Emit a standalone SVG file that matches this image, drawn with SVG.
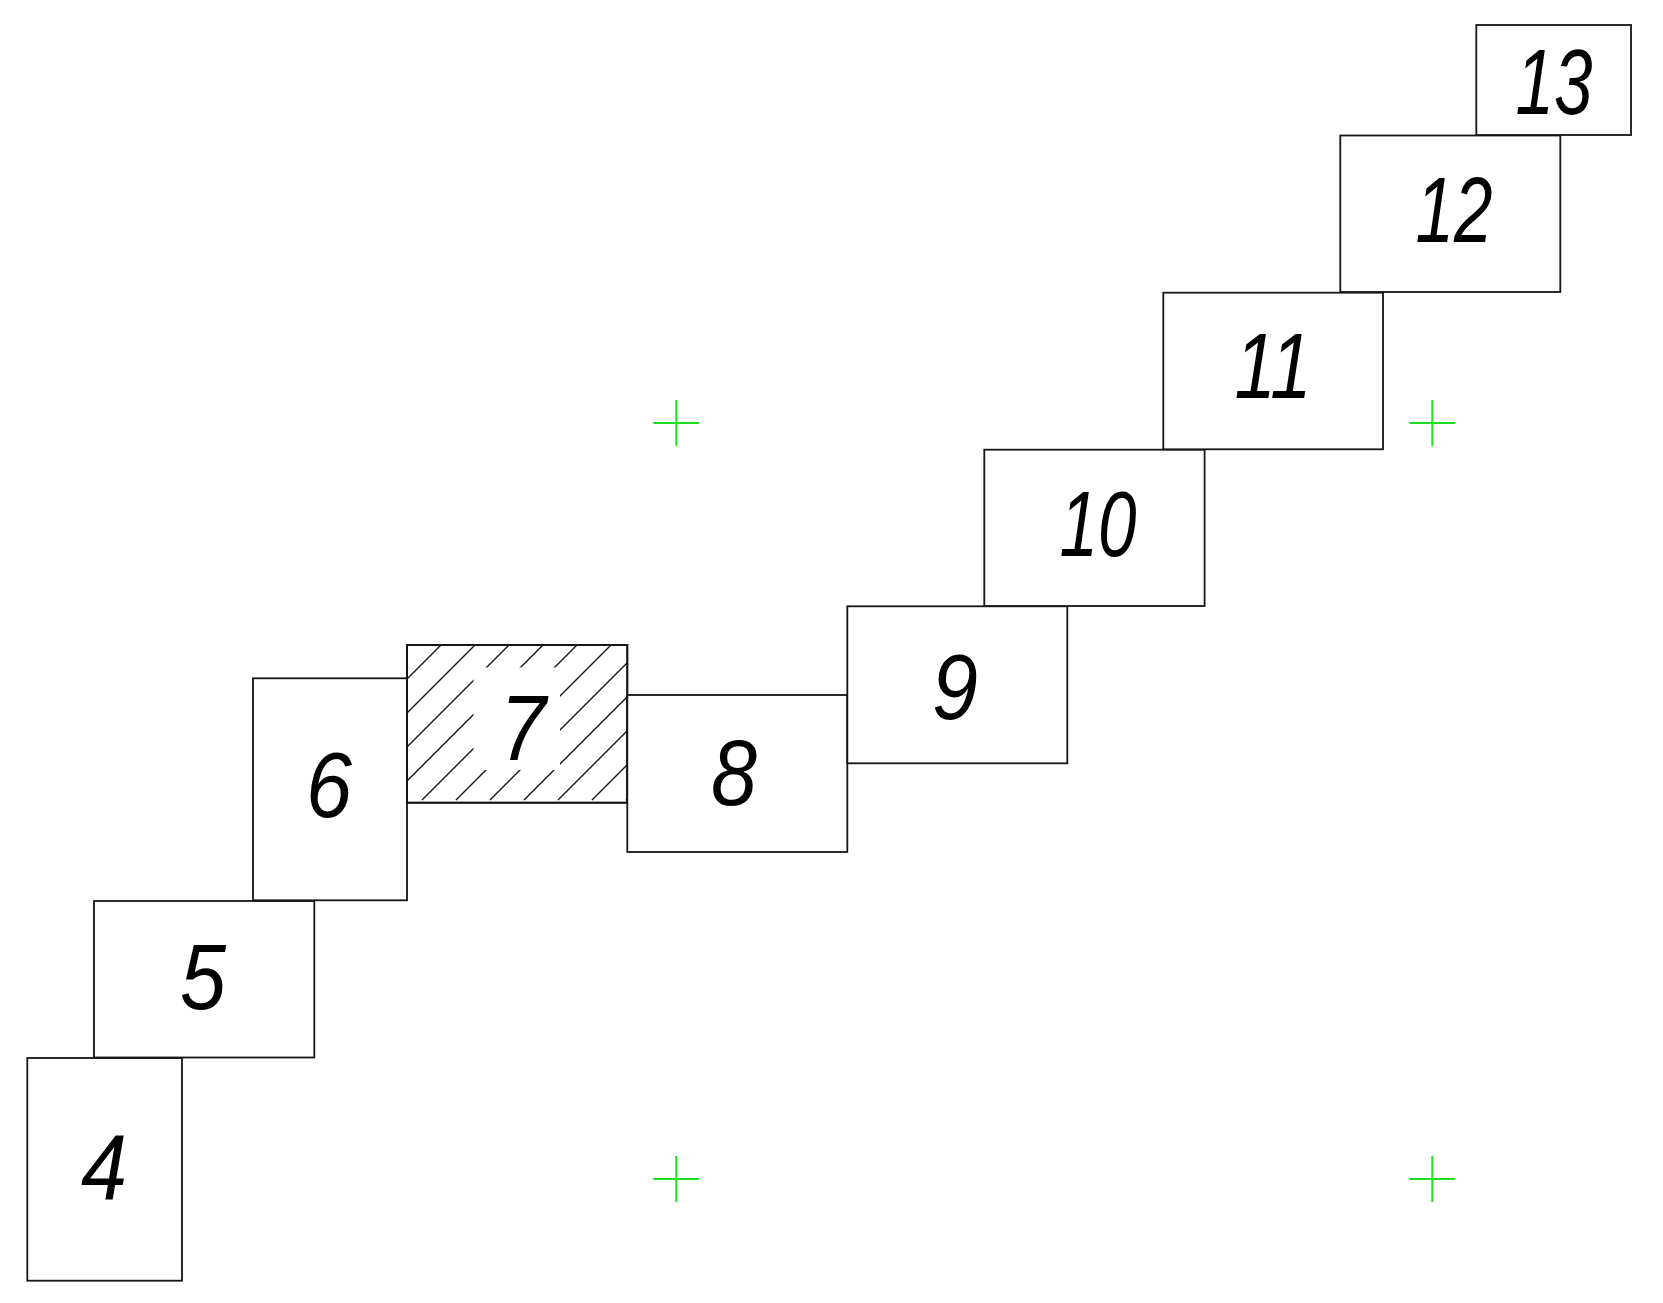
<svg xmlns="http://www.w3.org/2000/svg" width="1663" height="1303" viewBox="0 0 1663 1303">
  <style>
    .box{fill:#fff;stroke:#151515;stroke-width:1.8}
    .lbl{font-family:"Liberation Sans","DejaVu Sans",sans-serif;font-style:italic;font-size:93px;fill:#000;text-anchor:middle}
    .hatch{stroke:#1a1a1a;stroke-width:1.4}
    .cross{stroke:#1fe01f;stroke-width:2}
  </style>
  <defs>
    <clipPath id="clip7"><rect x="407" y="645" width="220.3" height="157.7"/></clipPath>
  </defs>
  <rect width="1663" height="1303" fill="#fff"/>
  <g id="node4"><rect class="box" x="27.3" y="1058" width="154.7" height="222.7"/><text class="lbl" x="104" y="1199" textLength="46" lengthAdjust="spacingAndGlyphs">4</text></g>
  <g id="node5"><rect class="box" x="94" y="901" width="220.3" height="156.5"/><text class="lbl" x="203" y="1009" textLength="46" lengthAdjust="spacingAndGlyphs">5</text></g>
  <g id="node6"><rect class="box" x="253" y="678.3" width="154" height="222"/><text class="lbl" x="329" y="817" textLength="46" lengthAdjust="spacingAndGlyphs">6</text></g>
  <g id="node7">
    <rect class="box" x="407" y="645" width="220.3" height="157.7"/>
    <g clip-path="url(#clip7)">
      <line class="hatch" x1="286" y1="800" x2="686" y2="400"/>
      <line class="hatch" x1="320" y1="800" x2="720" y2="400"/>
      <line class="hatch" x1="354" y1="800" x2="754" y2="400"/>
      <line class="hatch" x1="388" y1="800" x2="788" y2="400"/>
      <line class="hatch" x1="422" y1="800" x2="822" y2="400"/>
      <line class="hatch" x1="456" y1="800" x2="856" y2="400"/>
      <line class="hatch" x1="490" y1="800" x2="890" y2="400"/>
      <line class="hatch" x1="524" y1="800" x2="924" y2="400"/>
      <line class="hatch" x1="558" y1="800" x2="958" y2="400"/>
      <line class="hatch" x1="592" y1="800" x2="992" y2="400"/>
      <line class="hatch" x1="626" y1="800" x2="1026" y2="400"/>
    </g>
    <rect x="473.5" y="667.5" width="86.5" height="102.5" fill="#fff"/>
    <rect x="407" y="645" width="220.3" height="157.7" fill="none" stroke="#151515" stroke-width="1.8"/>
    <text class="lbl" x="523" y="760" textLength="46" lengthAdjust="spacingAndGlyphs">7</text>
  </g>
  <g id="node8"><rect class="box" x="627.3" y="695" width="220" height="157"/><text class="lbl" x="734" y="805" textLength="46" lengthAdjust="spacingAndGlyphs">8</text></g>
  <g id="node9"><rect class="box" x="847.3" y="606.3" width="220" height="157"/><text class="lbl" x="955" y="719" textLength="46" lengthAdjust="spacingAndGlyphs">9</text></g>
  <g id="node10"><rect class="box" x="984.3" y="449.7" width="220.3" height="156.3"/><text class="lbl" x="1098" y="556" textLength="77" lengthAdjust="spacingAndGlyphs">10</text></g>
  <g id="node11"><rect class="box" x="1163.3" y="292.7" width="219.7" height="156.6"/><text class="lbl" x="1273" y="398" textLength="77" lengthAdjust="spacingAndGlyphs">11</text></g>
  <g id="node12"><rect class="box" x="1340.3" y="135.5" width="220" height="156.5"/><text class="lbl" x="1454" y="241.5" textLength="77" lengthAdjust="spacingAndGlyphs">12</text></g>
  <g id="node13"><rect class="box" x="1476.3" y="25" width="154.7" height="110"/><text class="lbl" x="1554" y="114" textLength="77" lengthAdjust="spacingAndGlyphs">13</text></g>
  <g id="marks">
    <path class="cross" d="M653.3 423H699.3M676.3 400V446"/>
    <path class="cross" d="M1409.3 423H1455.3M1432.3 400V446"/>
    <path class="cross" d="M653.3 1179H699.3M676.3 1156V1202"/>
    <path class="cross" d="M1409.3 1179H1455.3M1432.3 1156V1202"/>
  </g>
  <g id="connectors"></g>
</svg>
